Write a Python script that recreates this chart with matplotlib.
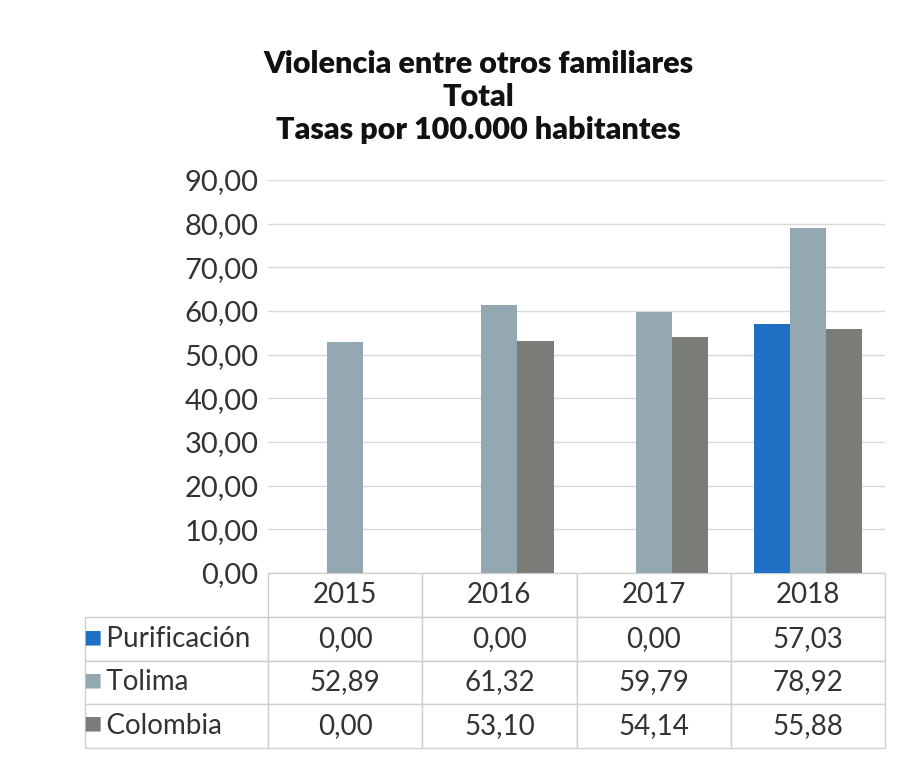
import matplotlib
matplotlib.use("Agg")
import matplotlib.pyplot as plt
import numpy as np

years = ["2015", "2016", "2017", "2018"]
series = ["Purificación", "Tolima", "Colombia"]
purificacion = [0.00, 0.00, 0.00, 57.03]
tolima = [52.89, 61.32, 59.79, 78.92]
colombia = [0.00, 53.10, 54.14, 55.88]
yticks = [0, 10, 20, 30, 40, 50, 60, 70, 80, 90]
colors = ["#1F6FC4", "#93A8B1", "#7A7C78"]
title = "Violencia entre otros familiares\nTotal\nTasas por 100.000 habitantes"

plt.rcParams['font.family'] = ['Lato', 'DejaVu Sans']

def fmt(v):
    return f"{v:.2f}".replace(".", ",")

fig = plt.figure(figsize=(9.14, 7.68), dpi=100)
ax = fig.add_axes([268/914, 1-573/768, 617/914, (573-180)/768])

data = [purificacion, tolima, colombia]
x = np.arange(len(years))
w = 0.235
for i, (vals, c) in enumerate(zip(data, colors)):
    ax.bar(x + (i-1)*w, vals, width=w, color=c, zorder=3)

ax.set_xlim(-0.5, len(years)-0.5)
ax.set_ylim(0, 90)
ax.set_yticks(yticks)
ax.set_yticklabels([fmt(v) for v in yticks], fontsize=21, color="#333333")
ax.set_xticks([])
ax.tick_params(axis='y', length=0, pad=7)
ax.grid(axis='y', color="#d9d9d9", linewidth=1, zorder=0)
for s in ax.spines.values():
    s.set_visible(False)

fig.text(478/914, 1-97/768, title, ha='center', va='center', fontsize=22,
         fontweight='heavy', linespacing=1.2, color="#111111")

cell_text = [["   " + s] + [fmt(v) for v in vals] for s, vals in zip(series, data)]
ax_h = 573-180
label_w = (268-85)/617
col_w = 0.25
tbl = ax.table(cellText=cell_text, colLabels=[""] + years,
               colWidths=[label_w] + [col_w]*4,
               cellLoc='center',
               bbox=[(85-268)/617, -(748-573)/ax_h, (885-85)/617, (748-573)/ax_h])
tbl.auto_set_font_size(False)
tbl.set_fontsize(20)
for (r, c), cell in tbl.get_celld().items():
    cell.set_edgecolor("#cfcfcf")
    cell.set_linewidth(1)
    cell.get_text().set_color("#333333")
    if c == 0:
        cell.get_text().set_horizontalalignment('left')
        cell.PAD = 0.0
    if r == 0 and c == 0:
        cell.visible_edges = ''

row_centers = [637, 680, 723]
for yc, c in zip(row_centers, colors):
    ax.text((92-268)/617, (573-yc)/ax_h, "■", color=c, fontsize=14,
            transform=ax.transAxes, ha='center', va='center',
            family='DejaVu Sans')

fig.savefig("out.png", dpi=100)
